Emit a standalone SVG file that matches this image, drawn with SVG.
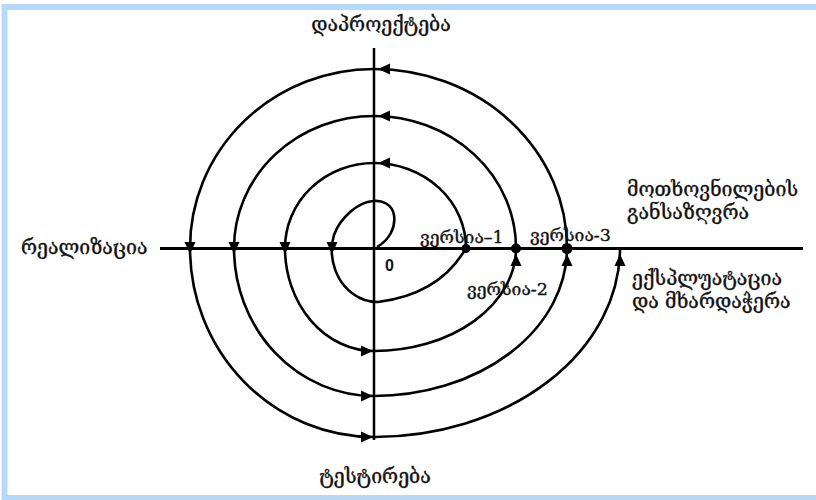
<svg xmlns="http://www.w3.org/2000/svg" width="816" height="500" viewBox="0 0 816 500">
<style>
.ax{stroke:#000;fill:none}
.arc{stroke:#000;stroke-width:2.6;fill:none}
.lbl{font-family:"DejaVu Serif","DejaVu Sans",serif;font-size:19.5px;fill:#111;stroke:#111;stroke-width:0.35}
.ver{font-family:"DejaVu Serif","DejaVu Sans",serif;font-size:17.5px;fill:#111;stroke:#111;stroke-width:0.35}
.zero{font-family:"Liberation Sans",sans-serif;font-size:16px;font-weight:bold;fill:#111}
</style>
<defs>
<path id="ah" d="M0,0 L-12,-5.5 L-12,5.5 Z" fill="#000"/>
</defs>
<rect width="816" height="500" fill="#fff"/>
<rect x="4.5" y="7" width="900" height="491" fill="none" stroke="#b5d9fb" stroke-width="6"/>
<g id="axes">
<line class="ax" x1="374" y1="48" x2="374" y2="440" stroke-width="2.5"/>
<line class="ax" x1="160" y1="248.5" x2="803" y2="248.5" stroke-width="3"/>
</g>
<g id="connectors">
<path id="loop" class="arc" d="M377,247 C389,240 396,228 394,215 C392,204 382,200 373,201 C358,202 340,218 334,235 C328,255 334,285 360,298 C366,301 372,302 378,302 C410,298 445,285 466,248"/>
<path id="ring1" class="arc" d="M466,248 A92 85 0 0 0 374,163 A89 85 0 0 0 285,248 A89 103 0 0 0 374,351 A142 103 0 0 0 516,248"/>
<path id="ring2" class="arc" d="M516,248 A142 132 0 0 0 374,116 A140 132 0 0 0 234,248 A140 148 0 0 0 374,396 A193 148 0 0 0 567,248"/>
<path id="ring3" class="arc" d="M567,248 A193 179 0 0 0 374,69 A184 179 0 0 0 190,248 A184 189 0 0 0 374,437 A246 189 0 0 0 620,248"/>
<g id="arrows">
<use href="#ah" transform="translate(378,69) rotate(180)"/>
<use href="#ah" transform="translate(378,116) rotate(180)"/>
<use href="#ah" transform="translate(378,163) rotate(180)"/>
<use href="#ah" transform="translate(190,254) rotate(90)"/>
<use href="#ah" transform="translate(234,254) rotate(90)"/>
<use href="#ah" transform="translate(285,254) rotate(90)"/>
<use href="#ah" transform="translate(332,254) rotate(90)"/>
<use href="#ah" transform="translate(373,351)"/>
<use href="#ah" transform="translate(373,396)"/>
<use href="#ah" transform="translate(373,437)"/>
<use href="#ah" transform="translate(516,254) rotate(-90)"/>
<use href="#ah" transform="translate(567,254) rotate(-90)"/>
<use href="#ah" transform="translate(620,254) rotate(-90)"/>
</g>
</g>
<g id="v1"><circle cx="466" cy="248.5" r="4.5"/><text class="ver" x="420" y="243">ვერსია–1</text></g>
<g id="v2"><circle cx="516" cy="248.5" r="5"/><text class="ver" x="467" y="295">ვერსია-2</text></g>
<g id="v3"><circle cx="567" cy="248.5" r="5.5"/><text class="ver" x="530" y="241">ვერსია-3</text></g>
<g id="zero"><text class="zero" x="385" y="271">0</text></g>
<g id="design"><text class="lbl" x="381" y="31" text-anchor="middle">დაპროექტება</text></g>
<g id="implement"><text class="lbl" x="21" y="254">რეალიზაცია</text></g>
<g id="testing"><text class="lbl" x="375" y="483" text-anchor="middle">ტესტირება</text></g>
<g id="requirements"><text class="lbl" x="627" y="196">მოთხოვნილების</text><text class="lbl" x="627" y="219">განსაზღვრა</text></g>
<g id="maintenance"><text class="lbl" x="632" y="285">ექსპლუატაცია</text><text class="lbl" x="632" y="308">და მხარდაჭერა</text></g>
</svg>
